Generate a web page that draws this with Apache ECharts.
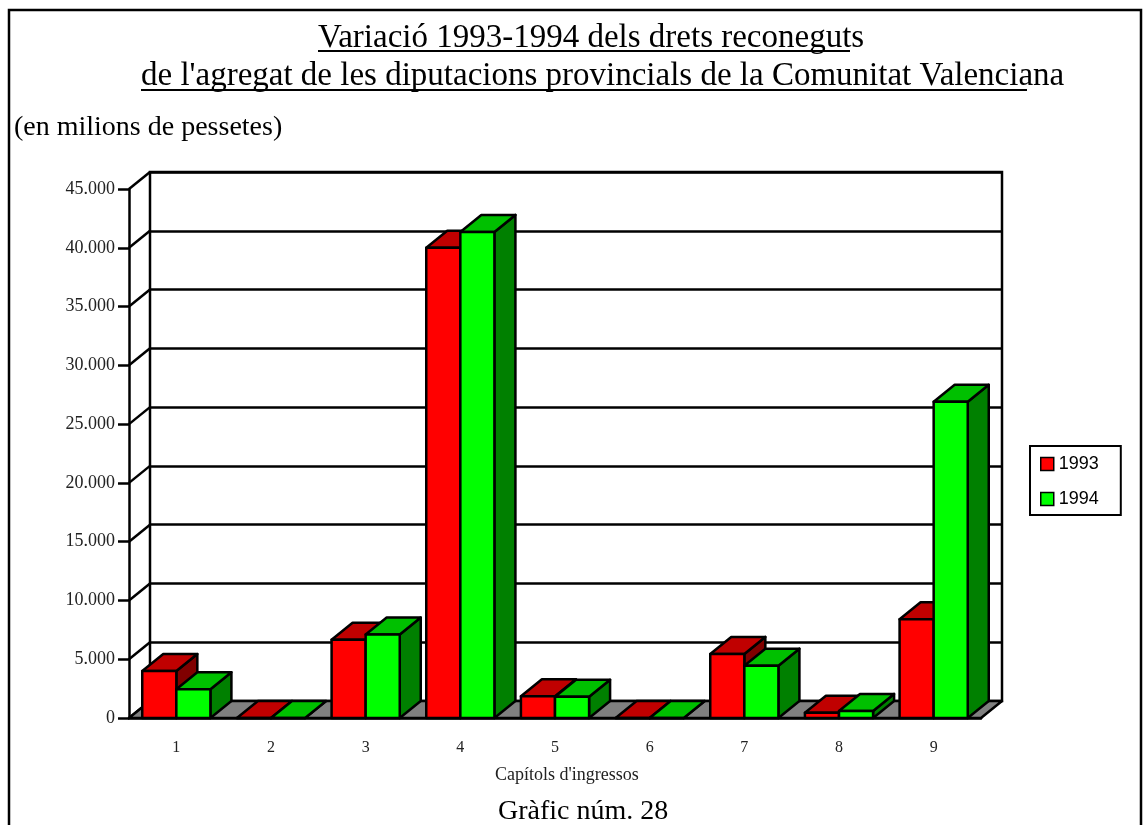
<!DOCTYPE html>
<html>
<head>
<meta charset="utf-8">
<script src="https://cdn.jsdelivr.net/npm/echarts@6/dist/echarts.min.js"></script>
<style>
  html, body { margin: 0; padding: 0; background: #fff; }
  #chart { width: 1145px; height: 825px; }
</style>
</head>
<body>
<div id="chart"></div>
<script>
var categories = ['1', '2', '3', '4', '5', '6', '7', '8', '9'];
var values1993 = [4000, 0, 6650, 40000, 1850, 0, 5450, 450, 8400];
var values1994 = [2450, 0, 7100, 41350, 1800, 0, 4450, 600, 26900];
var yTicks = [0, 5000, 10000, 15000, 20000, 25000, 30000, 35000, 40000, 45000];

var DEPTH = [21, -17];   // fake 3d depth offset
var SERIF = 'Liberation Serif';

var chart = echarts.init(document.getElementById('chart'));

function dotThousands(v) {
    return String(v).replace(/\B(?=(\d{3})+(?!\d))/g, '.');
}

// 3d bar: side face, top face, front face
function barRenderer(colors, side) {
    return function (params, api) {
        var idx = api.value(0);
        var val = api.value(1);
        var base = api.coord([idx, 0]);
        var top = api.coord([idx, val]);
        var bw = api.size([1, 0])[0] * 0.36;
        var x0 = side < 0 ? base[0] - bw : base[0];
        var x1 = x0 + bw;
        var y0 = base[1], y1 = top[1];
        var dx = DEPTH[0], dy = DEPTH[1];
        var line = { stroke: '#000', lineWidth: 2.5, lineJoin: 'round' };
        return {
            type: 'group',
            children: [
                {
                    type: 'polygon',
                    shape: { points: [[x1, y1], [x1 + dx, y1 + dy], [x1 + dx, y0 + dy], [x1, y0]] },
                    style: Object.assign({ fill: colors.side }, line)
                },
                {
                    type: 'polygon',
                    shape: { points: [[x0, y1], [x0 + dx, y1 + dy], [x1 + dx, y1 + dy], [x1, y1]] },
                    style: Object.assign({ fill: colors.top }, line)
                },
                {
                    type: 'rect',
                    shape: { x: x0, y: y1, width: bw, height: y0 - y1 },
                    style: Object.assign({ fill: colors.front }, line)
                }
            ]
        };
    };
}

var option = {
    animation: false,
    backgroundColor: '#fff',
    graphic: [
        { type: 'rect', shape: { x: 9, y: 10, width: 1132, height: 830 },
          style: { fill: 'none', stroke: '#000', lineWidth: 2.5 } },
        { type: 'text', x: 318, y: 38, style: { text: 'Variació 1993-1994 dels drets reconeguts',
          fontFamily: SERIF, fontSize: 33, fill: '#000', textAlign: 'left', textVerticalAlign: 'middle' } },
        { type: 'line', shape: { x1: 318, y1: 51, x2: 850, y2: 51 }, style: { stroke: '#000', lineWidth: 2 } },
        { type: 'text', x: 141, y: 76, style: { text: "de l'agregat de les diputacions provincials de la Comunitat Valenciana",
          fontFamily: SERIF, fontSize: 33, fill: '#000', textAlign: 'left', textVerticalAlign: 'middle' } },
        { type: 'line', shape: { x1: 141, y1: 90, x2: 1027, y2: 90 }, style: { stroke: '#000', lineWidth: 2 } },
        { type: 'text', x: 14, y: 128, style: { text: '(en milions de pessetes)',
          fontFamily: SERIF, fontSize: 28, fill: '#000', textAlign: 'left', textVerticalAlign: 'middle' } },
        { type: 'text', x: 495, y: 775, style: { text: "Capítols d'ingressos",
          fontFamily: SERIF, fontSize: 18, fill: '#222', textAlign: 'left', textVerticalAlign: 'middle' } },
        { type: 'text', x: 498, y: 812, style: { text: 'Gràfic núm. 28',
          fontFamily: SERIF, fontSize: 28, fill: '#000', textAlign: 'left', textVerticalAlign: 'middle' } }
    ],
    legend: {
        orient: 'vertical',
        left: 1030,
        top: 446,
        padding: [9, 22, 7, 10],
        itemGap: 17,
        itemWidth: 13,
        itemHeight: 13,
        borderColor: '#000',
        borderWidth: 2,
        selectedMode: false,
        textStyle: { fontFamily: 'Liberation Sans', fontSize: 18, color: '#000' },
        data: [
            { name: '1993', icon: 'rect', itemStyle: { color: '#ff0000', borderColor: '#000', borderWidth: 1.5 } },
            { name: '1994', icon: 'rect', itemStyle: { color: '#00ff00', borderColor: '#000', borderWidth: 1.5 } }
        ]
    },
    grid: [
        { left: 129, top: 189, width: 852, height: 529 },
        { left: 150, top: 172, width: 852, height: 529, show: true,
          borderColor: '#000', borderWidth: 2.5, backgroundColor: 'transparent' }
    ],
    xAxis: [
        {
            type: 'category',
            gridIndex: 0,
            data: categories,
            axisLine: { lineStyle: { color: '#000', width: 2.5 } },
            axisTick: { length: 10, lineStyle: { color: '#000', width: 2.5 } },
            axisLabel: { fontFamily: SERIF, fontSize: 16, color: '#222', margin: 22 },
            splitLine: { show: false }
        },
        { type: 'value', gridIndex: 1, show: false, min: 0, max: 1 }
    ],
    yAxis: [
        {
            type: 'value',
            gridIndex: 0,
            min: 0,
            max: 45000,
            interval: 5000,
            axisLine: { show: true, lineStyle: { color: '#000', width: 2.5 } },
            axisTick: { show: true, length: 11, lineStyle: { color: '#000', width: 2.5 } },
            axisLabel: { fontFamily: SERIF, fontSize: 18, color: '#222', margin: 14, formatter: dotThousands },
            splitLine: { show: false }
        },
        {
            type: 'value',
            gridIndex: 1,
            min: 0,
            max: 45000,
            interval: 5000,
            axisLine: { show: false },
            axisTick: { show: false },
            axisLabel: { show: false },
            splitLine: { show: true, lineStyle: { color: '#000', width: 2.5 } }
        }
    ],
    series: [
        {
            // side wall lines from the front axis to the back wall
            type: 'custom',
            silent: true,
            xAxisIndex: 0, yAxisIndex: 0,
            data: yTicks.map(function (v) { return [0, v]; }),
            renderItem: function (params, api) {
                var p = api.coord([0, api.value(1)]);
                var x = params.coordSys.x;
                return { type: 'line', shape: { x1: x, y1: p[1], x2: x + DEPTH[0], y2: p[1] + DEPTH[1] },
                         style: { stroke: '#000', lineWidth: 2.5 } };
            }
        },
        {
            // floor
            type: 'custom',
            silent: true,
            xAxisIndex: 0, yAxisIndex: 0,
            data: [[0, 0]],
            renderItem: function (params, api) {
                var cs = params.coordSys;
                var y = api.coord([0, 0])[1];
                return { type: 'polygon',
                         shape: { points: [[cs.x, y], [cs.x + cs.width, y],
                                           [cs.x + cs.width + DEPTH[0], y + DEPTH[1]], [cs.x + DEPTH[0], y + DEPTH[1]]] },
                         style: { fill: '#808080', stroke: '#000', lineWidth: 2.5, lineJoin: 'round' } };
            }
        },
        {
            name: '1993',
            type: 'custom',
            xAxisIndex: 0, yAxisIndex: 0,
            itemStyle: { color: '#ff0000' },
            data: values1993.map(function (v, i) { return [i, v]; }),
            renderItem: barRenderer({ front: '#ff0000', top: '#c00000', side: '#800000' }, -1)
        },
        {
            name: '1994',
            type: 'custom',
            xAxisIndex: 0, yAxisIndex: 0,
            itemStyle: { color: '#00ff00' },
            data: values1994.map(function (v, i) { return [i, v]; }),
            renderItem: barRenderer({ front: '#00ff00', top: '#00c000', side: '#008000' }, 1)
        }
    ]
};

chart.setOption(option);
</script>
</body>
</html>
